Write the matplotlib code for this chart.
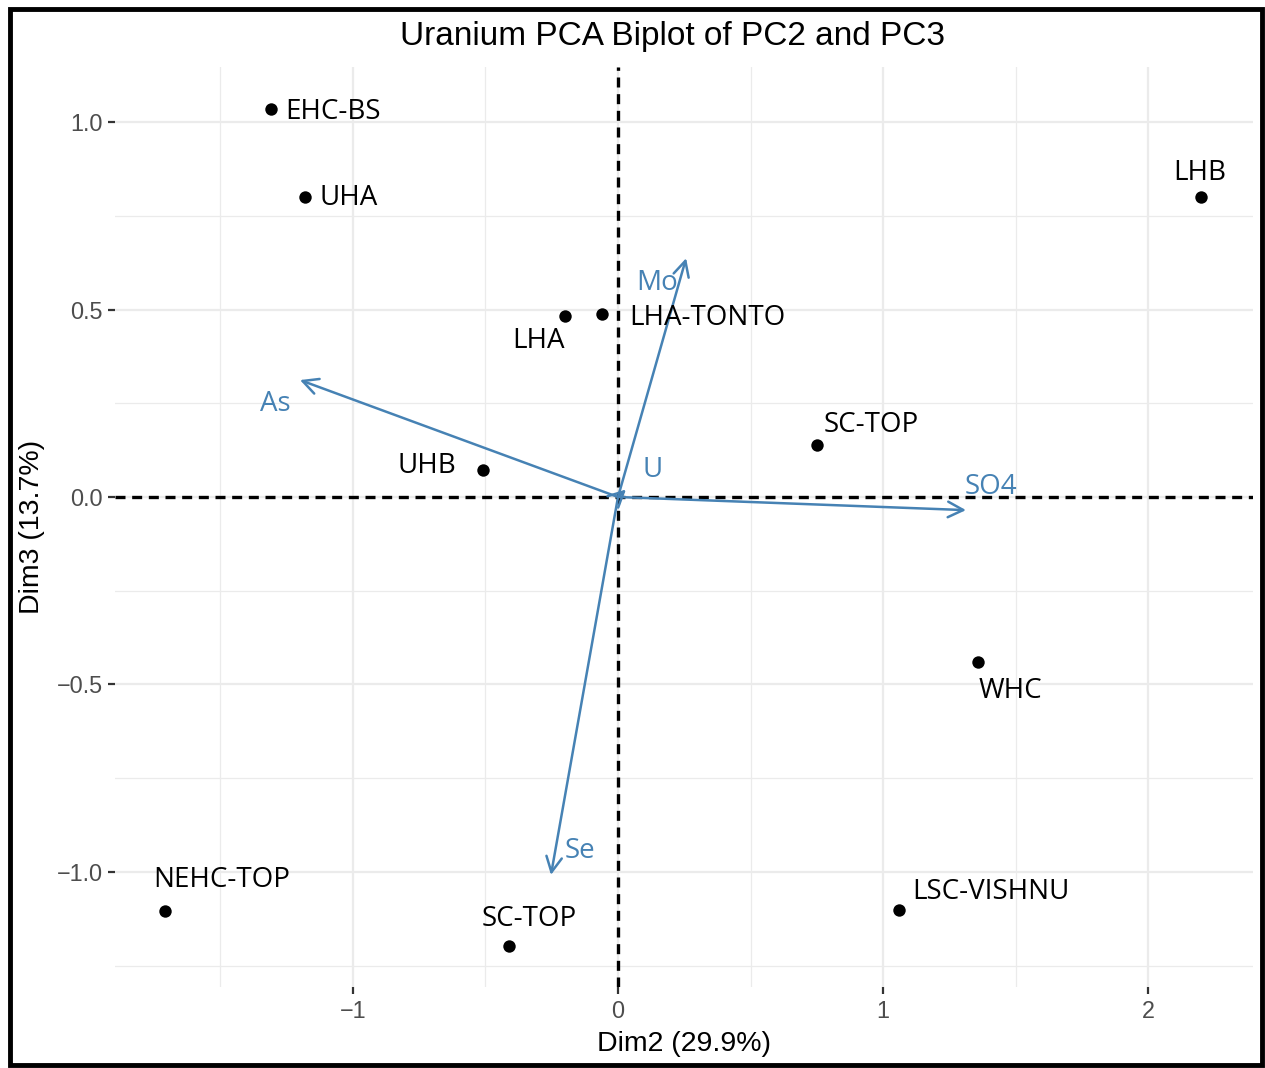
import matplotlib
matplotlib.use("Agg")
import matplotlib.pyplot as plt
from matplotlib.patches import Rectangle
from matplotlib.ticker import MultipleLocator

# sample scores on PC2 / PC3
sites = ["EHC-BS", "UHA", "LHB", "LHA", "LHA-TONTO", "SC-TOP", "UHB",
         "WHC", "NEHC-TOP", "SC-TOP", "LSC-VISHNU"]
dim2 = [-1.31, -1.18, 2.20, -0.20, -0.06, 0.75, -0.51, 1.36, -1.71, -0.41, 1.06]
dim3 = [1.035, 0.80, 0.80, 0.483, 0.488, 0.139, 0.072, -0.44, -1.104, -1.197, -1.101]

# variable loadings (arrows from origin)
variables = ["Mo", "As", "SO4", "Se", "U"]
load2 = [0.257, -1.20, 1.313, -0.253, 0.03]
load3 = [0.637, 0.312, -0.035, -1.008, 0.02]

# label nudges in points (x right, y up)
site_nudge = [(45, -2), (31, -1), (-1, 17), (-19, -18), (76, -3), (39, 14),
              (-40, 3), (23, -21), (41, 22), (14, 19), (66, 13)]
var_nudge = [(-21, -18), (-18, -17), (18, 17), (21, 17), (19, 14)]

blue = "#4682B4"
label_font = ["Open Sans", "DejaVu Sans"]
axis_font = ["Liberation Sans", "DejaVu Sans"]

fig = plt.figure(figsize=(12.65, 10.68), dpi=100)
W, H = 1265, 1068
ax = fig.add_axes([115 / W, 1 - 987 / H, (1253 - 115) / W, (987 - 67) / H])

xlim = (-1.898, 2.396)
ylim = (-1.307, 1.147)
ax.set_xlim(*xlim)
ax.set_ylim(*ylim)

# ggplot-like minimal theme
for s in ax.spines.values():
    s.set_visible(False)
ax.set_axisbelow(True)
ax.xaxis.set_major_locator(MultipleLocator(1))
ax.xaxis.set_minor_locator(MultipleLocator(0.5))
ax.yaxis.set_major_locator(MultipleLocator(0.5))
ax.yaxis.set_minor_locator(MultipleLocator(0.25))
ax.grid(which="major", color="#EBEBEB", lw=1.6)
ax.grid(which="minor", color="#EBEBEB", lw=0.9)
ax.tick_params(which="minor", length=0)
ax.tick_params(which="major", length=5, width=1.6, color="#333333",
               labelcolor="#4D4D4D", labelsize=16.8, pad=4)
ax.set_xticks([-1, 0, 1, 2])
ax.set_xticklabels(["\u22121", "0", "1", "2"], family=axis_font)
ax.set_yticks([-1.0, -0.5, 0.0, 0.5, 1.0])
ax.set_yticklabels(["\u22121.0", "\u22120.5", "0.0", "0.5", "1.0"], family=axis_font)

# dashed reference lines through the origin
ax.plot(xlim, [0, 0], color="black", linewidth=2.4,
        linestyle=(0, (3.0, 2.0)), zorder=2, scalex=False, scaley=False)
ax.plot([0, 0], ylim, color="black", linewidth=2.4,
        linestyle=(0, (3.0, 2.0)), zorder=2, scalex=False, scaley=False)

# loading arrows
for name, x, y, (dx, dy) in zip(variables, load2, load3, var_nudge):
    ax.annotate("", xy=(x, y), xytext=(0, 0),
                arrowprops=dict(arrowstyle="->,head_length=0.55,head_width=0.28",
                                color=blue, lw=1.8, shrinkA=0, shrinkB=0,
                                mutation_scale=20), zorder=3)
    ax.annotate(name, (x, y), xytext=(dx, dy), textcoords="offset points",
                ha="center", va="center", color=blue, fontsize=20,
                family=label_font, zorder=4)

# sample points
ax.scatter(dim2, dim3, s=80, color="black", zorder=5, linewidths=0)
for name, x, y, (dx, dy) in zip(sites, dim2, dim3, site_nudge):
    ax.annotate(name, (x, y), xytext=(dx, dy), textcoords="offset points",
                ha="center", va="center", color="black", fontsize=20,
                family=label_font, zorder=6)

ax.set_title("Uranium PCA Biplot of PC2 and PC3", fontsize=24, family=axis_font,
             color="black", pad=16, x=0.49)
ax.set_xlabel("Dim2 (29.9%)", fontsize=20.5, family=axis_font, labelpad=6)
ax.set_ylabel("Dim3 (13.7%)", fontsize=20.5, family=axis_font, labelpad=8)

# black frame around the whole figure
fig.patches.append(Rectangle((9.5 / W, 1 - 1065 / H), (1261.5 - 9.5) / W,
                             (1065 - 9) / H, transform=fig.transFigure,
                             fill=False, edgecolor="black", lw=3.5))

fig.savefig("out.png", dpi=100)
